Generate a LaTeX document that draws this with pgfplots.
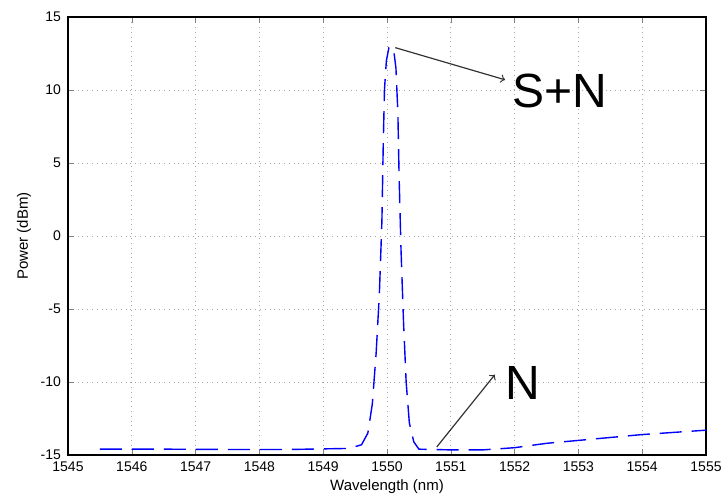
\documentclass[border=0pt]{standalone}
\usepackage{pgfplots}
\pgfplotsset{compat=1.18}
\usepackage{fontspec}
\setmainfont{Liberation Sans}
\begin{document}
\begin{tikzpicture}
\useasboundingbox (-34pt,-21.5pt) rectangle (329.5pt,227.5pt);
\begin{axis}[scale only axis,width=319pt,height=219pt,
  xmin=1545,xmax=1555,ymin=-15,ymax=15,
  xtick={1545,1546,...,1555},ytick={-15,-10,...,15},
  /pgf/number format/assume math mode=true,
  xticklabel style={/pgf/number format/1000 sep={}},
  tick label style={font=\fontsize{7}{8}\selectfont},
  label style={font=\fontsize{7.5}{9}\selectfont},
  xlabel={Wavelength (nm)},ylabel={Power (dBm)},
  xlabel style={yshift=3pt},ylabel style={yshift=-2pt},
  tick align=inside,tick pos=both,major tick length=3pt,
  grid=major,major grid style={dotted,gray!70},
  axis line style={line width=0.8pt},
  clip=false]
\addplot[blue,line width=0.7pt,dash pattern=on 11pt off 5pt] coordinates {
(1545.5,-14.6) (1546.5,-14.6) (1547.5,-14.62) (1548.5,-14.62) (1549.0,-14.58)
(1549.4,-14.55) (1549.6,-14.3) (1549.7,-13.5) (1549.77,-11.5) (1549.83,-8)
(1549.88,-4) (1549.92,1) (1549.94,6) (1549.96,10) (1549.99,12)
(1550.03,12.9) (1550.10,12.9) (1550.14,11.5) (1550.17,8.5) (1550.19,4)
(1550.22,-1) (1550.26,-6) (1550.30,-10) (1550.35,-12.8) (1550.42,-14.1)
(1550.5,-14.6) (1551.0,-14.65) (1551.5,-14.65) (1552.0,-14.5) (1552.5,-14.2)
(1553.0,-14.0) (1553.5,-13.8) (1554.0,-13.6) (1554.5,-13.45) (1555.0,-13.3)
};
\draw[->,line width=0.6pt,black!80] (axis cs:1550.13,12.9) -- (axis cs:1551.85,10.7);
\node[font=\fontsize{24}{26}\selectfont] at (axis cs:1552.71,9.9) {S+N};
\draw[->,line width=0.6pt,black!80] (axis cs:1550.78,-14.45) -- (axis cs:1551.69,-9.5);
\node[font=\fontsize{24}{26}\selectfont] at (axis cs:1552.13,-10.1) {N};
\end{axis}
\end{tikzpicture}
\end{document}
